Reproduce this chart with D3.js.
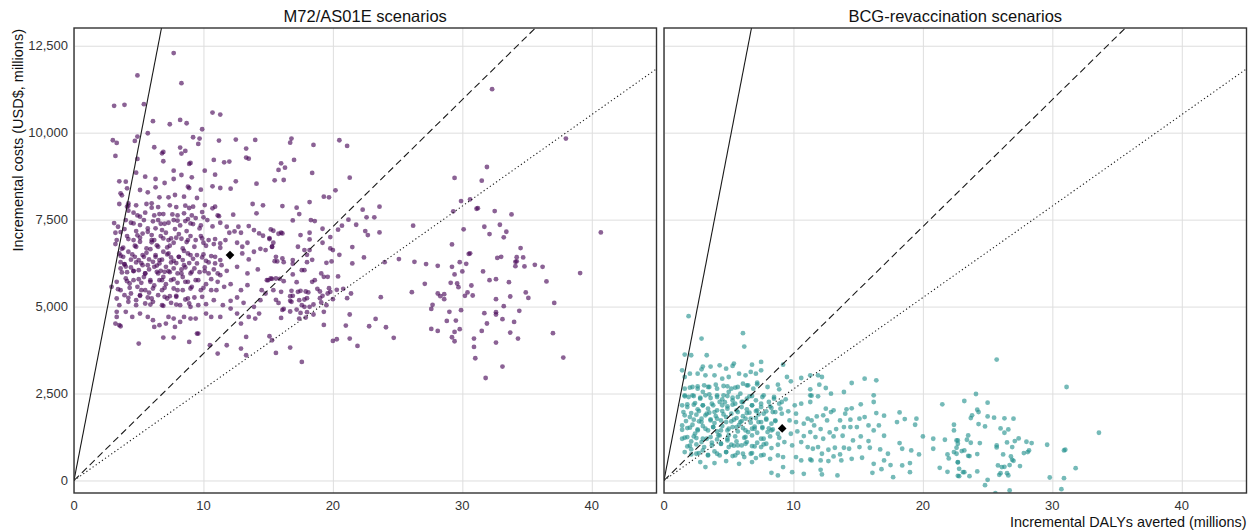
<!DOCTYPE html>
<html>
<head>
<meta charset="utf-8">
<script src="https://cdn.jsdelivr.net/npm/d3@7"></script>
<style>
  body { margin: 0; background: #fff; }
  svg { display: block; font-family: "Liberation Sans", Arial, sans-serif; }
</style>
</head>
<body>
<svg id="chart" width="1255" height="531"></svg>
<script>
// panel titles
const panelTitles = ['M72/AS01E scenarios', 'BCG-revaccination scenarios']

// simulated runs, [DALYs averted (millions), incremental cost (USD millions)]
const m72Points = [
  [4.9,11645],[8.3,11424],[3.1,10771],[3.9,10800],[5.4,10819],[10.7,10579],[11.3,10522],[6.1,10330],[7.4,10243],[8.2,10368],
  [8.7,10272],[9.9,10099],[5.7,9984],[3.0,9782],[3.3,9706],[4.7,9763],[4.9,9888],[9.2,9869],[9.7,9830],[9.6,9677],
  [11.2,9773],[12.5,9802],[14.0,9792],[3.2,9331],[6.2,9581],[6.9,9446],[6.8,9408],[8.2,9571],[8.3,9398],[8.6,9475],
  [6.9,9178],[4.9,9245],[10.8,9216],[11.6,9149],[12.0,9168],[13.3,9542],[13.3,9283],[13.5,9254],[8.9,9101],[9.0,9130],
  [10.1,8909],[10.9,8794],[4.8,8851],[7.7,8909],[8.3,8784],[9.1,8717],[12.5,8602],[14.1,8534],[3.5,8602],[4.0,8592],
  [4.1,8400],[5.5,8736],[6.3,8669],[6.3,8429],[7.0,8554],[7.7,8669],[8.8,8448],[8.9,8410],[9.8,8362],[10.7,8458],
  [11.3,8410],[12.1,8390],[5.1,8352],[5.7,8285],[3.6,8256],[3.7,8198],[3.5,7949],[4.2,7968],[4.1,7872],[4.2,7901],
  [4.8,7910],[5.6,7949],[6.0,7968],[6.0,7843],[6.6,8141],[7.3,8141],[7.8,8208],[8.5,8160],[6.5,7862],[7.4,7910],
  [7.9,7862],[8.6,7901],[8.9,7834],[9.2,7872],[9.5,8122],[10.1,7920],[10.7,7824],[10.9,7872],[12.3,7642],[13.8,7949],
  [14.1,7680],[14.6,7910],[11.1,7622],[11.2,7600],[4.2,7757],[4.6,7699],[4.9,7622],[5.1,7584],[5.5,7699],[6.2,7622],
  [6.6,7661],[6.9,7661],[7.6,7651],[8.0,7622],[8.5,7680],[8.8,7517],[9.1,7622],[9.4,7546],[9.9,7718],[10.0,7565],
  [3.1,7402],[3.4,7296],[3.2,7123],[3.6,7142],[4.0,7488],[4.4,7411],[4.6,7392],[5.1,7344],[5.4,7488],[6.1,7450],
  [6.5,7488],[6.7,7382],[7.0,7382],[7.3,7411],[7.7,7488],[8.0,7469],[8.2,7334],[8.6,7459],[9.0,7392],[9.2,7373],
  [9.8,7334],[10.3,7488],[10.7,7306],[11.3,7411],[11.8,7296],[12.0,7123],[12.4,7162],[12.7,7296],[12.9,7123],[13.5,7315],
  [13.9,7200],[14.3,7104],[14.6,7037],[15.1,6970],[3.3,6912],[3.2,6797],[3.7,6662],[4.1,7027],[4.6,6912],[4.8,6720],
  [5.1,6864],[5.7,7152],[6.0,7056],[6.2,6912],[6.4,6758],[6.7,7027],[7.1,7123],[7.3,6912],[7.5,6960],[7.7,6835],
  [8.1,7085],[8.3,6950],[8.7,6854],[9.0,7027],[9.4,6912],[9.8,7027],[10.0,6835],[10.4,6912],[10.8,6797],[11.3,6816],
  [11.7,6912],[12.6,6835],[13.0,6720],[13.4,6835],[13.9,6576],[14.4,6662],[14.8,6624],[15.3,6720],[3.5,6528],[3.8,6432],
  [3.6,6278],[3.9,6221],[4.2,6576],[4.7,6432],[5.0,6336],[5.3,6480],[5.6,6547],[5.8,6355],[6.1,6288],[6.3,6432],
  [6.6,6336],[6.9,6576],[7.3,6528],[7.5,6413],[7.7,6317],[8.1,6432],[8.4,6336],[8.8,6528],[9.2,6374],[9.5,6480],
  [9.9,6413],[10.2,6317],[10.6,6451],[10.9,6240],[11.3,6336],[13.0,6528],[13.5,6355],[3.6,6096],[4.1,5990],[4.4,6125],
  [4.6,6029],[5.0,6048],[5.3,6192],[5.5,5952],[5.8,6067],[6.2,6144],[6.5,5952],[6.7,6029],[7.1,6144],[7.4,5990],
  [7.7,6096],[8.0,5952],[8.3,6067],[8.6,6125],[9.0,5952],[9.3,6096],[9.7,5990],[10.1,6125],[10.4,5952],[10.8,6067],
  [11.3,5904],[11.8,6029],[12.6,6144],[13.4,5952],[14.2,6067],[14.9,5760],[15.2,5808],[2.9,5568],[3.3,5712],[3.6,5472],
  [4.0,5808],[4.3,5664],[4.6,5760],[4.9,5568],[5.2,5683],[5.5,5472],[5.9,5760],[6.2,5606],[6.6,5760],[6.8,5472],
  [7.1,5645],[7.5,5760],[7.7,5520],[8.0,5683],[8.4,5472],[8.8,5712],[9.1,5568],[9.4,5760],[9.8,5472],[10.2,5645],
  [10.6,5472],[11.1,5712],[11.6,5568],[12.1,5645],[12.9,5472],[13.4,5616],[14.5,5472],[15.0,5760],[3.3,5232],[3.5,5040],
  [3.9,5328],[4.2,5136],[4.4,5376],[4.8,5184],[5.1,5328],[5.5,5088],[5.7,5261],[6.1,5136],[6.5,5328],[6.8,5040],
  [7.2,5232],[7.5,5107],[7.9,5280],[8.2,5040],[8.6,5203],[8.9,5088],[9.3,5261],[9.6,5040],[10.2,5069],[10.8,5184],
  [11.5,5040],[12.1,5165],[12.6,5261],[13.1,5107],[13.9,4992],[14.4,5184],[14.8,5376],[3.3,4704],[3.2,4512],[3.5,4464],
  [4.0,4848],[4.5,4704],[5.1,4800],[5.7,4704],[6.1,4608],[6.2,4416],[6.6,4464],[7.1,4512],[7.3,4704],[7.7,4656],
  [7.8,4416],[8.2,4560],[8.5,4704],[9.0,4656],[9.4,4656],[9.6,4224],[10.2,4800],[10.6,4704],[11.3,4704],[12.1,4944],
  [12.6,4800],[12.9,4512],[13.5,4704],[14.0,4656],[14.3,4800],[5.0,3936],[6.9,4109],[7.7,4109],[8.9,3984],[9.5,4224],
  [10.5,3888],[11.1,3648],[11.8,3888],[12.9,3792],[13.3,3600],[13.3,4128],[15.1,4147],[15.3,4032],[3.3,4848],[3.6,4435],
  [7.7,12288],[3.6,13080],
  [5.2,6250],[6.4,6180],[7.0,6000],[5.9,6650],[7.9,6250],[4.4,6350],[5.4,5850],[6.9,5850],[8.4,5850],[7.2,6700],
  [6.3,7250],[4.9,7050],[8.5,6600],[5.8,5400],[7.4,5300],[6.0,6850],[4.0,6150],[8.9,6250],[5.3,7100],[6.8,6350],
  [3.9,7229],[4.8,7171],[5.7,7248],[6.8,7200],[7.8,7229],[8.7,7171],[9.7,7248],
  [4.2,6941],[5.1,6979],[6.0,6912],[6.9,6960],[7.9,6979],[8.8,6912],[9.9,6960],[10.9,6941],
  [3.8,6691],[4.7,6749],[5.6,6672],[6.5,6720],[7.4,6749],[8.4,6672],[9.3,6720],[10.2,6749],[11.3,6691],
  [3.6,6461],[4.5,6499],[5.4,6432],[6.3,6480],[7.2,6499],[8.1,6432],[9.0,6480],[10.0,6499],[10.9,6432],
  [3.9,6211],[4.8,6269],[5.7,6192],[6.6,6240],[7.5,6269],[8.5,6192],[9.5,6240],[10.4,6269],[11.4,6192],
  [3.7,5981],[4.6,6019],[5.5,5952],[6.4,6000],[7.3,6019],[8.3,5952],[9.1,6000],[10.1,6019],[11.1,5952],
  [4.1,5731],[5.0,5789],[5.9,5712],[6.8,5760],[7.7,5789],[8.6,5712],[9.6,5760],[10.6,5789],
  [3.4,5501],[4.3,5539],[5.2,5472],[6.1,5520],[7.0,5539],[8.0,5472],[9.0,5520],[10.0,5539],[11.0,5472],
  [4.2,5251],[5.1,5309],[6.0,5232],[7.0,5280],[7.9,5309],[8.8,5232],[9.9,5280],
  [4.8,5040],[5.9,5059],[6.9,5021],[7.9,5059],[9.0,4992],
  [16.8,9830],[16.7,9714],[18.5,9648],[20.5,9783],[21.1,9619],[16.0,9120],[15.8,8928],[16.3,8995],[17.0,9216],[15.5,8631],
  [16.2,8640],[18.4,8842],[21.3,8707],[20.2,8343],[19.3,8160],[19.7,8141],[16.1,7891],[18.2,8006],[17.2,7843],[17.4,7661],
  [16.9,7478],[18.3,7488],[18.6,7459],[22.3,7786],[23.6,7872],[22.6,7565],[23.2,7565],[21.2,7498],[15.2,7219],[15.4,7180],
  [16.0,7123],[16.1,7104],[15.8,7094],[17.5,7056],[18.2,7123],[19.2,7238],[20.4,7210],[20.7,7325],[21.8,7353],[22.5,7171],
  [22.7,7056],[23.6,7133],[26.2,7325],[15.1,6941],[15.4,6835],[15.3,6720],[18.2,6931],[19.2,6835],[17.3,6720],[17.8,6624],
  [18.2,6624],[19.8,6998],[19.8,6673],[20.0,6624],[21.5,6710],[15.6,6431],[15.5,6307],[15.7,6298],[16.1,6385],[16.2,6278],
  [16.9,6336],[16.9,6230],[18.0,6489],[18.4,6345],[18.0,6278],[19.5,6259],[19.9,6298],[20.5,6489],[21.5,6240],[22.4,6413],
  [24.0,6278],[25.1,6365],[26.3,6288],[27.2,6221],[28.1,6173],[17.6,6048],[17.8,6048],[16.9,5924],[18.4,5711],[18.6,5760],
  [19.1,5953],[19.3,5856],[19.6,5856],[20.4,5866],[15.3,5798],[15.6,5808],[15.9,5798],[16.2,5731],[17.2,5702],[15.4,5472],
  [16.0,5424],[16.8,5453],[16.9,5308],[17.3,5424],[17.5,5453],[17.9,5434],[18.1,5406],[18.8,5510],[19.0,5434],[19.2,5308],
  [19.7,5530],[19.8,5424],[19.6,5376],[20.3,5481],[20.8,5510],[21.4,5376],[21.1,5242],[23.7,5270],[26.1,5414],[27.1,5654],
  [15.6,5193],[15.8,5106],[16.7,5299],[16.7,5165],[16.8,5136],[17.4,5184],[17.8,5204],[18.0,5242],[17.6,5040],[17.8,4992],
  [18.2,4992],[18.5,5060],[19.0,5242],[19.1,5118],[19.5,5040],[20.0,5213],[16.2,4934],[16.1,4905],[16.7,4858],[17.2,4915],
  [17.5,4819],[18.0,4838],[19.3,4848],[16.0,4675],[17.4,4656],[17.9,4685],[18.5,4772],[19.3,4474],[21.3,4772],[23.3,4646],
  [21.0,4454],[22.8,4435],[24.1,4406],[27.6,4934],[27.7,5050],[28.1,5376],[27.6,4358],[28.1,4300],[21.3,4081],[20.3,4061],
  [20.0,4012],[21.9,3869],[24.7,4101],[16.7,3821],[15.6,3667],[17.6,3408],
  [32.3,11250],[38.0,9830],[31.9,9014],[29.4,8698],[31.5,8621],[29.9,8035],[30.6,8084],[29.3,7738],[31.1,7813],[31.2,7830],
  [32.5,7747],[33.8,7651],[40.7,7133],[30.1,7220],[31.7,7296],[32.9,7353],[33.4,7152],[32.1,7085],[33.2,6990],[29.2,6788],
  [34.5,6682],[30.5,6518],[30.6,6530],[32.7,6400],[33.0,6432],[34.2,6422],[34.7,6414],[29.8,6278],[30.3,6230],[34.1,6287],
  [34.2,6300],[29.2,6144],[34.1,6163],[34.8,6154],[35.6,6202],[36.2,6144],[39.1,5962],[29.4,5924],[30.0,6010],[31.6,6010],
  [29.1,5683],[29.6,5664],[29.7,5558],[30.7,5606],[32.1,5760],[32.6,5789],[33.6,5702],[36.5,5722],[30.4,5406],[30.2,5308],
  [30.8,5319],[28.6,5357],[28.3,5299],[28.6,5213],[32.6,5213],[33.7,5290],[34.9,5406],[35.1,5250],[37.1,5106],[33.2,5011],
  [29.0,4848],[29.9,4896],[31.7,4810],[32.6,4838],[32.6,4772],[34.4,4877],[28.8,4588],[29.5,4599],[31.9,4513],[33.1,4637],
  [34.0,4560],[29.4,4271],[29.8,4349],[31.5,4300],[33.7,4254],[37.0,4234],[29.2,4118],[29.4,4003],[30.9,4081],[34.3,4081],
  [30.9,3840],[32.6,3966],[31.0,3514],[37.8,3534],[33.1,3274],[31.8,2946]
]

const bcgPoints = [
  [1.9,4723],[6.1,4234],[6.2,3850],[2.9,4080],[1.6,3619],[2.1,3600],[3.3,3600],[5.4,3360],[5.3,3293],[7.5,3408],
  [6.8,3331],[3.0,3274],[2.9,3197],[3.6,3274],[4.3,3312],[4.8,3216],[1.4,3168],[1.6,2976],[2.0,3072],[2.6,3072],
  [3.2,3024],[3.9,3024],[4.5,2928],[5.0,2976],[5.8,3072],[6.3,3024],[6.7,3120],[7.1,3072],[7.5,3168],[9.2,3331],
  [9.5,2976],[9.8,2851],[10.6,2947],[11.3,3024],[1.6,2640],[2.2,2688],[2.6,2640],[3.1,2736],[3.5,2688],[4.0,2755],
  [4.6,2717],[5.2,2640],[5.7,2688],[6.1,2784],[6.5,2736],[6.9,2640],[7.2,2813],[8.0,2688],[8.8,2755],[8.9,2621],
  [11.3,2621],[11.3,2448],[1.6,2448],[1.9,2400],[2.3,2429],[2.8,2352],[3.2,2448],[3.6,2371],[4.1,2448],[4.5,2333],
  [4.9,2429],[5.3,2304],[5.7,2400],[6.0,2256],[6.4,2352],[6.8,2429],[7.1,2304],[7.6,2400],[8.1,2256],[8.5,2352],
  [9.1,2256],[9.4,2333],[10.1,2160],[10.6,2208],[11.3,2256],[1.4,2160],[1.8,2112],[2.3,2179],[2.6,2045],[3.0,2160],
  [3.4,2064],[3.8,2160],[4.1,2016],[4.5,2160],[4.9,2064],[5.3,2179],[5.6,2016],[6.0,2112],[6.4,2045],[6.8,2160],
  [7.2,2016],[7.5,2112],[7.9,1987],[8.3,2083],[8.6,1968],[9.0,2064],[9.6,1987],[10.2,1920],[11.1,1776],[1.6,1872],
  [2.0,1824],[2.5,1891],[2.9,1776],[3.2,1872],[3.6,1757],[4.0,1853],[4.4,1728],[4.8,1824],[5.2,1699],[5.6,1795],
  [5.9,1680],[6.3,1776],[6.7,1661],[7.1,1795],[7.5,1680],[7.9,1776],[8.3,1632],[8.6,1728],[9.7,1728],[10.2,1680],
  [10.8,1632],[11.4,1728],[1.4,1584],[1.8,1507],[2.2,1603],[2.6,1469],[3.0,1565],[3.4,1440],[3.8,1536],[4.1,1411],
  [4.5,1565],[4.9,1440],[5.3,1536],[5.7,1411],[6.1,1507],[6.5,1392],[6.8,1488],[7.2,1373],[7.6,1507],[8.0,1392],
  [8.4,1469],[8.8,1344],[9.8,1344],[10.3,1411],[10.8,1277],[11.3,1392],[1.4,1200],[1.8,1248],[2.1,1123],[2.5,1219],
  [2.9,1104],[3.3,1200],[3.7,1085],[4.1,1181],[4.4,1056],[4.9,1152],[5.2,1027],[5.6,1123],[6.0,1008],[6.4,1104],
  [6.8,989],[7.2,1085],[7.5,960],[7.9,1056],[8.3,931],[8.8,1027],[9.3,1104],[9.9,1008],[10.6,1104],[11.1,960],
  [1.6,816],[2.1,893],[2.5,768],[3.0,864],[3.4,739],[3.9,835],[4.3,720],[4.8,816],[5.3,701],[5.7,797],
  [6.2,672],[6.7,768],[7.1,643],[7.7,739],[8.2,624],[8.8,720],[9.2,672],[10.2,672],[10.6,576],[11.3,605],
  [3.2,384],[8.3,221],[8.8,144],[9.2,384],[9.9,240],[10.8,192],
  [3.9,1650],[5.0,1300],[6.3,1250],[4.6,1900],[7.3,1900],[5.8,1600],[3.5,1950],[6.6,1950],[2.7,1700],[5.4,1000],
  [4.2,1300],[7.0,1550],[8.1,1500],[2.4,1350],[6.1,1850],[4.7,2250],[3.0,2550],[7.7,1200],[5.0,2550],[2.0,1000],
  [2.0,2669],[2.6,2707],[3.4,2688],[4.1,2640],[4.9,2707],[5.5,2669],[6.4,2736],[7.2,2765],
  [1.6,2419],[2.2,2448],[2.8,2381],[3.5,2477],[4.1,2400],[4.6,2448],[5.3,2381],[5.9,2496],[6.6,2419],[7.7,2448],[8.5,2400],
  [1.8,2189],[2.4,2227],[3.0,2160],[3.7,2208],[4.3,2256],[4.9,2131],[5.5,2208],[6.1,2256],[6.8,2160],[7.5,2208],[8.2,2131],[8.9,2208],
  [1.5,1968],[2.1,1939],[2.7,1997],[3.3,1920],[3.9,1968],[4.5,1997],[5.2,1920],[5.7,1968],[6.4,1939],[7.1,1997],[7.7,1920],[8.4,1968],[9.1,1920],
  [1.7,1709],[2.3,1747],[2.9,1680],[3.6,1728],[4.1,1776],[4.8,1680],[5.4,1747],[6.0,1709],[6.7,1776],[7.3,1680],[7.9,1747],[8.6,1709],
  [1.4,1459],[2.0,1517],[2.6,1440],[3.2,1488],[3.8,1536],[4.4,1440],[5.0,1488],[5.6,1536],[6.3,1440],[7.0,1488],[7.6,1536],[8.3,1440],
  [1.6,1229],[2.3,1267],[3.0,1200],[3.6,1248],[4.3,1296],[4.9,1200],[5.5,1267],[6.2,1229],[6.8,1296],[7.5,1200],[8.2,1267],[8.9,1229],
  [1.8,979],[2.5,1037],[3.1,960],[3.7,1008],[4.4,1056],[5.0,960],[5.7,1008],[6.3,1056],[7.0,979],[7.7,1037],
  [2.1,749],[2.7,787],[3.4,720],[4.1,768],[4.8,816],[5.5,720],[6.1,768],[6.8,787],[7.5,720],
  [2.8,528],[3.9,499],[4.8,557],[5.8,480],[6.8,528],
  [11.9,3024],[12.2,2976],[14.5,2803],[15.5,2928],[16.4,2880],[12.0,2755],[12.5,2659],[11.4,2438],[11.9,2419],[12.9,2496],
  [13.9,2544],[16.2,2448],[16.2,2256],[15.2,2189],[14.1,2045],[14.5,2074],[12.5,2064],[12.9,1968],[13.1,2016],[11.8,1843],
  [12.3,1872],[12.6,1728],[13.6,1728],[14.0,1920],[14.4,1747],[15.1,1776],[15.5,1824],[16.4,1939],[17.0,1862],[18.2,1958],
  [18.0,1680],[18.6,1766],[19.5,1776],[19.4,1603],[11.6,1584],[12.1,1478],[12.8,1382],[13.3,1478],[13.9,1536],[14.4,1536],
  [14.9,1536],[15.8,1584],[16.2,1440],[16.6,1584],[17.0,1286],[11.7,1248],[12.3,1200],[13.1,1267],[13.8,1286],[14.6,1152],
  [15.2,1267],[15.8,1133],[20.0,1267],[20.8,1200],[21.7,1171],[22.6,1152],[18.2,1075],[16.7,893],[15.9,941],[15.1,960],
  [14.3,912],[13.9,941],[11.5,912],[11.9,960],[12.7,883],[13.2,941],[12.2,768],[13.1,691],[13.6,749],[14.5,624],
  [15.3,653],[17.3,768],[17.0,576],[18.4,912],[19.1,864],[19.7,749],[20.8,912],[21.9,749],[22.4,816],[22.6,941],
  [22.0,634],[22.7,528],[11.4,576],[12.1,576],[12.7,557],[13.7,576],[16.2,480],[17.5,442],[18.4,432],[19.0,499],
  [21.3,365],[21.9,250],[22.7,134],[12.1,307],[12.2,173],[13.4,144],[16.1,221],[16.8,326],[17.7,96],[19.0,240],
  [21.5,2189],[22.4,1603],[22.4,1440],
  [25.7,3475],[31.1,2688],[24.1,2486],[23.2,2285],[25.0,2237],[24.2,2035],[24.3,1968],[23.8,1872],[23.7,1795],[25.0,1843],
  [25.5,1805],[26.3,1786],[27.0,1776],[24.3,1622],[24.8,1555],[26.0,1498],[26.6,1469],[26.3,1373],[33.6,1373],[23.5,1296],
  [23.4,1171],[22.7,1152],[23.7,1085],[24.4,1075],[22.7,1056],[25.7,1008],[25.7,950],[26.5,1094],[27.1,1133],[27.4,1210],
  [26.9,960],[28.0,1114],[28.4,1075],[29.6,1027],[30.9,864],[31.0,883],[23.0,845],[23.2,864],[22.6,768],[23.5,710],
  [23.6,701],[24.2,758],[26.2,749],[26.8,691],[27.8,787],[28.2,864],[28.1,816],[22.7,518],[26.9,595],[27.0,566],
  [27.5,413],[22.8,336],[23.1,240],[23.2,240],[24.2,259],[25.8,432],[26.1,384],[26.3,394],[26.7,442],[26.0,211],
  [26.5,211],[26.6,144],[22.8,125],[23.6,125],[25.9,163],[25.0,19],[24.8,-134],[26.7,-288],[25.6,-365],[29.8,86],
  [30.9,67],[31.8,355],[30.7,-250]
]

// mean of each scenario set
const meanPoints = [[12.05, 6480], [9.13, 1498]]

// cost-effectiveness thresholds (USD per DALY averted) and their line styles
const thresholds = [1925, 365, 263]
const thresholdDash = [null, '7,4', '1.2,2.6']

const xTicks = [0, 10, 20, 30, 40]
const yTicks = [0, 2500, 5000, 7500, 10000, 12500]

const pointColors = ['#440154', '#21908C']

const svg = d3.select('#chart')
const plotTop = 28, plotBottom = 493
const panelLeft = [74, 664]
const panelWidth = 582.5

const y = d3.scaleLinear().domain([-360, 13010]).range([plotBottom, plotTop])

const panels = [m72Points, bcgPoints]

panels.forEach((pts, i) => {
  const x = d3.scaleLinear().domain([0, 45]).range([panelLeft[i], panelLeft[i] + panelWidth])
  const g = svg.append('g')

  g.append('clipPath').attr('id', 'clip' + i)
    .append('rect')
    .attr('x', panelLeft[i]).attr('y', plotTop)
    .attr('width', panelWidth).attr('height', plotBottom - plotTop)

  // grid
  g.append('g')
    .attr('transform', `translate(0,${plotBottom})`)
    .call(d3.axisBottom(x).tickValues(xTicks).tickSize(-(plotBottom - plotTop)).tickFormat(''))
    .call(a => a.select('.domain').remove())
    .call(a => a.selectAll('line').attr('stroke', '#dedede').attr('stroke-width', 1))
  g.append('g')
    .attr('transform', `translate(${panelLeft[i]},0)`)
    .call(d3.axisLeft(y).tickValues(yTicks).tickSize(-panelWidth).tickFormat(''))
    .call(a => a.select('.domain').remove())
    .call(a => a.selectAll('line').attr('stroke', '#dedede').attr('stroke-width', 1))

  const plot = g.append('g').attr('clip-path', `url(#clip${i})`)

  plot.selectAll('circle')
    .data(pts)
    .join('circle')
    .attr('cx', d => x(d[0]))
    .attr('cy', d => y(d[1]))
    .attr('r', 2.4)
    .attr('fill', pointColors[i])
    .attr('fill-opacity', 0.62)

  plot.selectAll('line.thr')
    .data(thresholds)
    .join('line')
    .attr('class', 'thr')
    .attr('x1', x(0)).attr('y1', y(0))
    .attr('x2', x(45)).attr('y2', d => y(d * 45))
    .attr('stroke', '#1a1a1a')
    .attr('stroke-width', 1.1)
    .attr('stroke-dasharray', (d, j) => thresholdDash[j])

  plot.append('path')
    .attr('d', d3.symbol(d3.symbolDiamond2, 48)())
    .attr('transform', `translate(${x(meanPoints[i][0])},${y(meanPoints[i][1])})`)
    .attr('fill', '#000')

  // panel border
  g.append('rect')
    .attr('x', panelLeft[i]).attr('y', plotTop)
    .attr('width', panelWidth).attr('height', plotBottom - plotTop)
    .attr('fill', 'none').attr('stroke', '#333').attr('stroke-width', 1.4)

  // x tick labels
  g.selectAll('text.xt')
    .data(xTicks)
    .join('text')
    .attr('class', 'xt')
    .attr('x', d => x(d)).attr('y', 510)
    .attr('text-anchor', 'middle')
    .attr('font-size', 13).attr('fill', '#333')
    .text(d => d)

  g.append('text')
    .attr('x', panelLeft[i] + panelWidth / 2).attr('y', 22)
    .attr('text-anchor', 'middle')
    .attr('font-size', 16.5).attr('fill', '#111')
    .text(panelTitles[i])
})

// y tick labels (left panel only)
svg.selectAll('text.yt')
  .data(yTicks)
  .join('text')
  .attr('class', 'yt')
  .attr('x', 68).attr('y', d => y(d) + 4.5)
  .attr('text-anchor', 'end')
  .attr('font-size', 13).attr('fill', '#333')
  .text(d => d3.format(',')(d))

svg.append('text')
  .attr('transform', `translate(23,${plotTop + 1}) rotate(-90)`)
  .attr('text-anchor', 'end')
  .attr('font-size', 14.5).attr('fill', '#111')
  .text('Incremental costs (USD$, millions)')

svg.append('text')
  .attr('x', panelLeft[1] + panelWidth).attr('y', 527)
  .attr('text-anchor', 'end')
  .attr('font-size', 14.4).attr('fill', '#111')
  .text('Incremental DALYs averted (millions)')
</script>
</body>
</html>
